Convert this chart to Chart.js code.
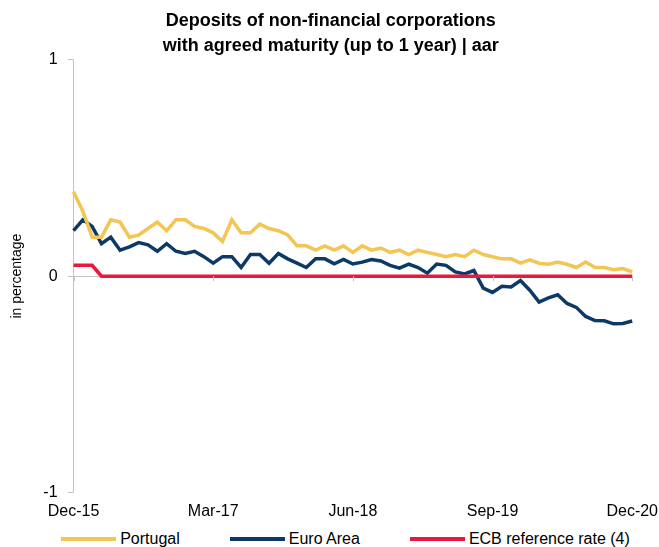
<!DOCTYPE html>
<html>
<head>
<meta charset="utf-8">
<script src="https://cdn.jsdelivr.net/npm/chart.js@4.4.1/dist/chart.umd.min.js"></script>
<style>
    html, body { margin: 0; padding: 0; background: #fff; }
    #wrap { position: relative; width: 659px; height: 547px; }
    #chart-box { position: absolute; left: 0; top: 0; width: 659px; height: 522px; }
    #legend {
        position: absolute; left: 0; top: 529px; width: 659px; height: 20px;
        box-sizing: border-box; padding-left: 32px;
        display: flex; justify-content: center; align-items: center;
        font-family: "Liberation Sans", Arial, sans-serif;
        font-size: 16px; color: #000;
    }
    #legend .item { display: flex; align-items: center; margin: 0 25px; }
    #legend .swatch { width: 55px; height: 4px; margin-right: 4px; }
</style>
</head>
<body>
<div id="wrap">
    <div id="chart-box"><canvas id="deposits-chart"></canvas></div>
    <div id="legend"></div>
</div>
<script>
const FONT = '"Liberation Sans", Arial, sans-serif';

const titleLines = ["Deposits of non-financial corporations", "with agreed maturity (up to 1 year) | aar"];
const yTitle = "in percentage";

const months = [
    "Dec-15",
    "Jan-16", "Feb-16", "Mar-16", "Apr-16", "May-16", "Jun-16", "Jul-16", "Aug-16", "Sep-16", "Oct-16", "Nov-16", "Dec-16",
    "Jan-17", "Feb-17", "Mar-17", "Apr-17", "May-17", "Jun-17", "Jul-17", "Aug-17", "Sep-17", "Oct-17", "Nov-17", "Dec-17",
    "Jan-18", "Feb-18", "Mar-18", "Apr-18", "May-18", "Jun-18", "Jul-18", "Aug-18", "Sep-18", "Oct-18", "Nov-18", "Dec-18",
    "Jan-19", "Feb-19", "Mar-19", "Apr-19", "May-19", "Jun-19", "Jul-19", "Aug-19", "Sep-19", "Oct-19", "Nov-19", "Dec-19",
    "Jan-20", "Feb-20", "Mar-20", "Apr-20", "May-20", "Jun-20", "Jul-20", "Aug-20", "Sep-20", "Oct-20", "Nov-20", "Dec-20"
];
const shownTicks = ["Dec-15", "Mar-17", "Jun-18", "Sep-19", "Dec-20"];
const yTicks = [-1, 0, 1];

const portugal = [
    0.39, 0.30, 0.18, 0.18, 0.26, 0.25, 0.18, 0.19, 0.22, 0.25, 0.21, 0.26, 0.26, 0.23, 0.22,
    0.20, 0.16, 0.26, 0.20, 0.20, 0.24, 0.22, 0.21, 0.19, 0.14, 0.14, 0.12, 0.14, 0.12,
    0.14, 0.11, 0.14, 0.12, 0.13, 0.11, 0.12, 0.10, 0.12, 0.11, 0.10, 0.09, 0.10, 0.09, 0.12, 0.10,
    0.09, 0.08, 0.08, 0.06, 0.075, 0.06, 0.055, 0.065, 0.055, 0.04, 0.065, 0.04, 0.04, 0.03, 0.035, 0.02
];
const euroArea = [
    0.21, 0.26, 0.23, 0.15, 0.18, 0.12, 0.135, 0.155, 0.145, 0.115, 0.15, 0.115, 0.105, 0.115, 0.09,
    0.06, 0.09, 0.09, 0.04, 0.10, 0.10, 0.06, 0.105, 0.08, 0.06, 0.04, 0.08, 0.08, 0.057,
    0.077, 0.056, 0.065, 0.077, 0.07, 0.05, 0.037, 0.056, 0.04, 0.014, 0.056, 0.05, 0.02, 0.01, 0.026, -0.055,
    -0.075, -0.047, -0.05, -0.02, -0.065, -0.12, -0.10, -0.086, -0.126, -0.144, -0.186, -0.205, -0.206, -0.22, -0.218, -0.207
];
const ecbRate = [
    0.05, 0.05, 0.05, 0, 0, 0, 0, 0, 0, 0, 0, 0, 0, 0, 0,
    0, 0, 0, 0, 0, 0, 0, 0, 0, 0, 0, 0, 0, 0,
    0, 0, 0, 0, 0, 0, 0, 0, 0, 0, 0, 0, 0, 0, 0, 0,
    0, 0, 0, 0, 0, 0, 0, 0, 0, 0, 0, 0, 0, 0, 0, 0
];

const seriesNames = ["Portugal", "Euro Area", "ECB reference rate (4)"];
const seriesColors = ["#F3C654", "#0D3966", "#E8193C"];

const axisGray = "#c4c4c4";

// small tick marks on the zero line for the labelled months
const zeroTicks = {
    id: "zeroTicks",
    afterDatasetsDraw(chart) {
        const { ctx, scales: { x, y } } = chart;
        const y0 = y.getPixelForValue(0);
        ctx.save();
        ctx.strokeStyle = axisGray;
        ctx.lineWidth = 1;
        shownTicks.forEach(lbl => {
            const px = Math.round(x.getPixelForValue(months.indexOf(lbl))) + 0.5;
            ctx.beginPath();
            ctx.moveTo(px, y0);
            ctx.lineTo(px, y0 + 5);
            ctx.stroke();
        });
        ctx.restore();
    }
};

const datasets = [portugal, euroArea, ecbRate].map((data, i) => ({
    label: seriesNames[i],
    data,
    borderColor: seriesColors[i],
    backgroundColor: seriesColors[i],
    borderWidth: 3.5,
    pointRadius: 0,
    tension: 0,
    order: i === 2 ? 0 : i + 1
}));

new Chart(document.getElementById("deposits-chart"), {
    type: "line",
    data: { labels: months, datasets },
    plugins: [zeroTicks],
    options: {
        responsive: true,
        maintainAspectRatio: false,
        animation: false,
        layout: { padding: { left: 8.5, right: 6, top: 0, bottom: 0 } },
        plugins: {
            legend: { display: false },
            tooltip: { enabled: false },
            title: {
                display: true,
                text: titleLines,
                color: "#000",
                font: { family: FONT, size: 18, weight: "bold", lineHeight: 1.39 },
                padding: { top: 8.5, bottom: 1 }
            }
        },
        scales: {
            x: {
                offset: false,
                grid: { display: false },
                border: { display: false },
                ticks: {
                    autoSkip: false,
                    maxRotation: 0,
                    padding: 1,
                    color: "#000",
                    font: { family: FONT, size: 16 },
                    callback: (v, i) => shownTicks.includes(months[i]) ? months[i] : ""
                }
            },
            y: {
                min: -1,
                max: 1,
                afterBuildTicks: s => { s.ticks = yTicks.map(v => ({ value: v })); },
                grid: {
                    color: c => c.tick && c.tick.value === 0 ? axisGray : "rgba(0,0,0,0)",
                    tickColor: axisGray,
                    tickLength: 6,
                    lineWidth: 1
                },
                border: { display: true, color: axisGray },
                ticks: {
                    color: "#000",
                    padding: 10,
                    font: { family: FONT, size: 16 }
                },
                title: {
                    display: true,
                    text: yTitle,
                    color: "#000",
                    font: { family: FONT, size: 14 },
                    padding: { top: 0, bottom: 8 }
                }
            }
        }
    }
});

const legend = document.getElementById("legend");
seriesNames.forEach((name, i) => {
    const item = document.createElement("div");
    item.className = "item";
    item.innerHTML = `<span class="swatch" style="background:${seriesColors[i]}"></span><span>${name}</span>`;
    legend.appendChild(item);
});
</script>
</body>
</html>
